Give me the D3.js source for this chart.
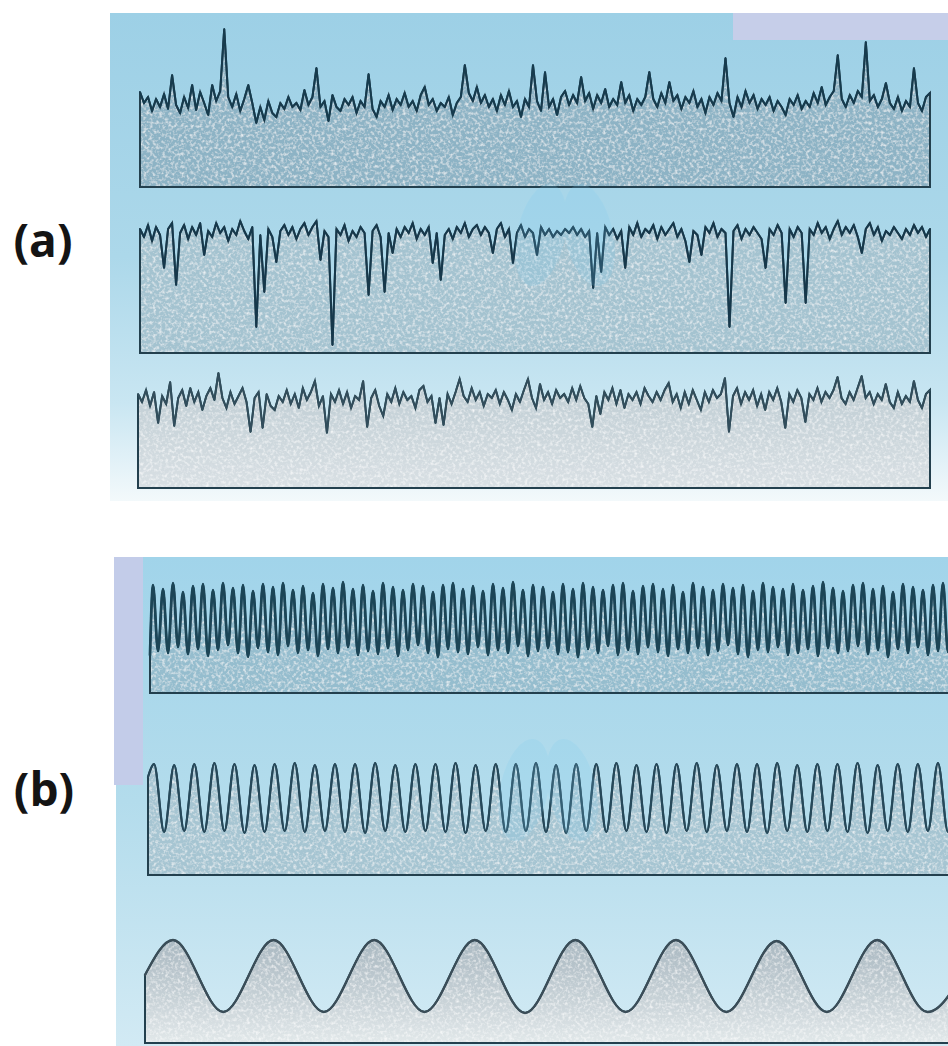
<!DOCTYPE html>
<html lang="en">
<head>
  <meta charset="UTF-8">
  <title>Signal traces (a) and (b)</title>
  <script src="https://d3js.org/d3.v7.min.js"></script>
  <style>
    body {
      margin: 0;
      background: #fff;
    }
    svg {
      display: block;
    }
    .label {
      font-family: 'Open Sans', 'Liberation Sans', Arial, sans-serif;
      font-weight: 700;
      font-size: 46px;
      fill: #141414;
    }
    .trace {
      fill: none;
      stroke-linejoin: round;
      stroke-linecap: round;
    }
    .box {
      stroke: #23404e;
      stroke-width: 2;
      stroke-linejoin: miter;
    }
  </style>
</head>
<body>

<svg id="chart" width="948" height="1046"></svg>

<script>
// ---- data (signal height above the box floor) ----

// (a) top: irregular trace with upward spikes
const traceA1 = [
  95,84,90,76,88,80,93,78,112,82,
  74,90,79,102,77,95,84,72,102,86,
  96,158,90,80,93,76,88,102,84,64,
  80,67,86,74,70,84,78,90,80,84,
  77,97,82,90,119,80,86,66,92,80,
  76,88,82,90,74,86,80,113,78,70,
  86,80,92,77,88,82,94,80,86,76,
  92,100,82,88,76,84,80,90,72,84,
  90,122,94,86,100,84,92,80,88,76,
  92,82,96,80,86,70,88,80,122,86,
  76,115,80,88,72,90,96,82,92,84,
  110,86,94,78,92,84,98,80,88,82,
  105,84,92,76,88,82,90,115,88,80,
  94,84,105,86,92,78,90,84,96,80,
  88,74,90,82,94,86,129,84,70,90,
  80,96,84,92,78,88,82,90,76,86,
  80,72,88,82,92,78,86,80,94,84,
  100,82,90,96,132,88,80,92,84,96,
  90,145,86,92,80,88,104,84,78,90,
  76,86,80,119,84,76,90,94
];

// (a) middle: irregular trace with downward spikes
const traceA2 = [
  124,116,128,112,126,118,85,124,130,68,
  120,128,114,126,118,130,98,122,116,130,
  120,126,112,124,118,132,122,114,126,26,
  118,61,124,116,91,122,128,118,126,114,
  124,130,118,126,132,93,122,116,8,124,
  118,128,112,122,116,126,120,58,122,128,
  116,61,120,100,124,116,126,120,130,114,
  124,118,126,90,120,73,118,124,114,126,
  120,130,116,124,128,118,126,120,100,124,
  130,116,124,90,120,128,116,124,120,98,
  126,118,124,116,122,118,124,120,126,118,
  124,116,122,65,120,81,126,118,124,114,
  122,85,126,118,130,116,124,120,128,114,
  126,118,124,130,116,124,112,91,122,118,
  98,126,120,130,116,124,120,26,122,128,
  114,124,118,126,120,114,85,124,118,128,
  120,50,124,116,126,120,50,124,118,130,
  120,126,114,124,132,118,126,120,128,116,
  100,124,130,118,126,112,122,118,126,120,
  114,124,118,128,120,126,116,124
];

// (a) bottom: irregular trace, small spikes both ways
const traceA3 = [
  94,86,98,82,96,65,92,84,106,62,
  90,98,82,100,86,96,78,92,100,88,
  115,90,80,96,84,92,100,86,56,90,
  96,60,94,82,78,92,86,98,84,94,
  80,100,88,96,107,82,92,55,94,86,
  98,84,96,80,92,88,107,61,90,98,
  82,72,94,86,100,84,96,88,92,80,
  98,102,86,92,65,90,63,94,84,96,
  109,92,86,100,88,96,82,94,90,98,
  84,96,88,78,94,86,98,109,90,80,
  104,88,96,84,98,90,94,86,100,88,
  102,90,84,61,92,74,96,88,100,84,
  98,80,94,88,96,84,100,92,86,96,
  88,98,105,86,94,80,96,84,98,88,
  78,96,86,98,90,94,110,56,92,100,
  84,96,88,98,82,94,78,96,88,100,
  86,60,94,86,98,90,66,94,88,100,
  86,96,90,98,111,90,84,96,88,100,
  112,90,96,84,94,88,104,86,80,96,
  84,92,86,107,88,80,94,98
];

// (b) top: fast wave, trough / peak turning points
const traceB1 = [
  38,108, 42,104, 40,110, 46,101, 39,107, 44,109, 37,103, 43,110, 48,105, 40,108,
  36,102, 45,109, 41,106, 38,110, 47,103, 40,107, 43,100, 37,109, 44,105, 40,111,
  46,104, 38,108, 42,102, 39,110, 45,106, 37,103, 43,109, 48,107, 40,101, 36,108,
  44,110, 41,104, 39,107, 46,102, 38,109, 43,105, 40,111, 47,103, 37,108, 42,106,
  45,101, 39,109, 41,104, 36,110, 44,106, 40,103, 47,108, 38,110, 43,102, 39,107,
  46,109, 41,104, 37,108, 44,101, 40,110, 45,106, 38,103, 42,109, 48,105, 39,108,
  36,102, 43,110, 41,106, 46,104, 38,109, 40,103, 44,107, 37,111, 45,105, 40,102,
  42,108, 47,110, 39,104, 43,107, 36,101, 44,109, 40,106, 46,103, 38,108, 42,110,
  41,105
];

// (b) middle: medium wave, start value then peak / trough turning points
const traceB2 = [
  98,
  111,43, 110,44, 111,43, 112,44, 111,42, 110,43, 111,44, 112,43, 110,44, 111,43,
  111,42, 112,44, 110,43, 111,44, 111,43, 112,42, 110,44, 111,43, 111,44, 112,43,
  110,42, 111,44, 111,43, 112,44, 110,43, 111,42, 111,44, 112,43, 110,44, 111,43,
  111,42, 112,44, 110,43, 111,44, 111,43, 112,42, 110,44, 111,43, 111,44, 112,43,
  110
];

// (b) bottom: slow wave, start value then peak / trough turning points
const traceB3 = [68, 103, 31, 103, 31, 103, 31, 103, 30, 103, 31, 103, 31, 102, 31, 103, 31, 103];

const labels = ["(a)", "(b)"];

// ---- layout ----
const svg = d3.select("#chart");
const defs = svg.append("defs");

function vGradient(id, stops) {
  const g = defs.append("linearGradient").attr("id", id)
    .attr("x1", 0).attr("y1", 0).attr("x2", 0).attr("y2", 1);
  stops.forEach(s => g.append("stop").attr("offset", s[0]).attr("stop-color", s[1]));
}

vGradient("bgA", [[0, "#9dd0e6"], [0.5, "#acd8ea"], [0.8, "#c9e6f2"], [1, "#f3f9fb"]]);
vGradient("bgB", [[0, "#a1d4ea"], [0.5, "#b3dcec"], [1, "#d2eaf4"]]);
vGradient("fillA3", [[0, "#bccbd2"], [1, "#d9e0e4"]]);
vGradient("fillB3", [[0, "#a9b8c1"], [0.6, "#c9d3d8"], [1, "#e2e8ea"]]);

// soft mottled paper texture for the filled areas
const grain = defs.append("filter").attr("id", "grain")
  .attr("x", 0).attr("y", 0).attr("width", 1).attr("height", 1);
grain.append("feTurbulence").attr("type", "fractalNoise")
  .attr("baseFrequency", 0.32).attr("numOctaves", 2).attr("seed", 7).attr("result", "noise");
grain.append("feColorMatrix").attr("in", "noise").attr("type", "matrix")
  .attr("values", "0 0 0 0 1  0 0 0 0 1  0 0 0 0 1  1.6 0 0 0 -0.72")
  .attr("result", "speck");
grain.append("feComposite").attr("in", "speck").attr("in2", "SourceAlpha")
  .attr("operator", "in").attr("result", "clipped");
const merge = grain.append("feMerge");
merge.append("feMergeNode").attr("in", "SourceGraphic");
merge.append("feMergeNode").attr("in", "clipped");

// slight softening of the printed ink lines
defs.append("filter").attr("id", "soft")
  .append("feGaussianBlur").attr("stdDeviation", 0.35);

// panel backgrounds
svg.append("rect").attr("x", 110).attr("y", 13).attr("width", 838).attr("height", 488)
  .attr("fill", "url(#bgA)");
svg.append("rect").attr("x", 733).attr("y", 13).attr("width", 215).attr("height", 27)
  .attr("fill", "#c6cee9");
svg.append("rect").attr("x", 116).attr("y", 557).attr("width", 832).attr("height", 489)
  .attr("fill", "url(#bgB)");
svg.append("rect").attr("x", 114).attr("y", 557).attr("width", 29).attr("height", 228)
  .attr("fill", "#c3cce9");

const traces = [
  {values: traceA1, left: 140, x0: 140, dx: 790 / 197, bottom: 187,
   fill: "#8db3c5", stroke: "#163a4e", width: 2.0, curve: d3.curveLinear},
  {values: traceA2, left: 140, x0: 140, dx: 790 / 197, bottom: 353,
   fill: "#a4c3d0", stroke: "#19394c", width: 2.0, curve: d3.curveLinear},
  {values: traceA3, left: 138, x0: 138, dx: 792 / 197, bottom: 488,
   fill: "url(#fillA3)", stroke: "#314e5b", width: 1.9, curve: d3.curveLinear},
  {values: traceB1, left: 150, x0: 148, dx: 5, bottom: 693,
   fill: "#95bdce", stroke: "#1a4457", width: 2.7, curve: d3.curveMonotoneX},
  {values: traceB2, left: 148, x0: 144, dx: 10.05, bottom: 875,
   fill: "#a6c5d2", stroke: "#26485a", width: 2.2, curve: d3.curveMonotoneX},
  {values: traceB3, left: 145, x0: 122.7, dx: 50.3, bottom: 1043,
   fill: "url(#fillB3)", stroke: "#3a4e59", width: 2.3, curve: d3.curveMonotoneX}
];

function drawTrace(t) {
  const n = t.values.length;
  const x = d3.scaleLinear().domain([0, n - 1]).range([t.x0, t.x0 + t.dx * (n - 1)]);
  const y = d3.scaleLinear().domain([0, 100]).range([t.bottom, t.bottom - 100]);
  // the first sample sits on the left wall of the box
  const px = (d, i) => i === 0 ? t.left : x(i);

  const area = d3.area().x(px).y0(y(0)).y1(d => y(d)).curve(t.curve);
  const line = d3.line().x(px).y(d => y(d)).curve(t.curve);

  svg.append("path")
    .datum(t.values)
    .attr("fill", t.fill)
    .attr("filter", "url(#grain)")
    .attr("d", area);

  svg.append("path")
    .datum(t.values)
    .attr("class", "box")
    .attr("fill", "none")
    .attr("d", area);

  svg.append("path")
    .datum(t.values)
    .attr("class", "trace")
    .attr("stroke", t.stroke)
    .attr("stroke-width", t.width)
    .attr("filter", "url(#soft)")
    .attr("d", line);
}

traces.forEach(drawTrace);

// faint lung watermark in the middle of each panel
[[565, 235], [548, 790]].forEach(c => {
  const w = svg.append("g").attr("transform", `translate(${c[0]},${c[1]})`)
    .attr("fill", "#7ccbef").attr("opacity", 0.18);
  w.append("ellipse").attr("cx", -24).attr("cy", 0).attr("rx", 24).attr("ry", 52)
    .attr("transform", "rotate(12,-24,0)");
  w.append("ellipse").attr("cx", 24).attr("cy", 0).attr("rx", 24).attr("ry", 52)
    .attr("transform", "rotate(-12,24,0)");
});

svg.selectAll("text.label")
  .data(labels)
  .join("text")
  .attr("class", "label")
  .attr("text-anchor", "middle")
  .attr("x", (d, i) => i === 0 ? 43 : 44)
  .attr("y", (d, i) => i === 0 ? 257 : 806)
  .text(d => d);
</script>

</body>
</html>
